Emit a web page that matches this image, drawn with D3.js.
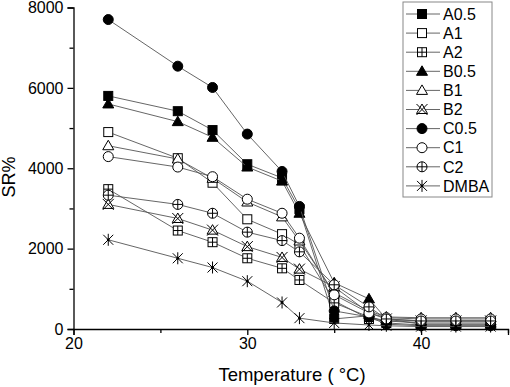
<!DOCTYPE html>
<html>
<head>
<meta charset="utf-8">
<script src="https://cdn.jsdelivr.net/npm/d3@7"></script>
<style>
  html, body { margin: 0; padding: 0; background: #fff; }
  svg { display: block; font-family: "Liberation Sans", Arial, sans-serif; }
</style>
</head>
<body>
<div id="container"></div>
<script>
const width = 510, height = 387;

// Data — swelling ratio (SR%) vs temperature
const temps = [22, 26, 28, 30, 32, 33, 35, 37, 38, 40, 42, 44];
const seriesNames = ["A0.5", "A1", "A2", "B0.5", "B1", "B2", "C0.5", "C1", "C2", "DMBA"];
const seriesMarkers = ["squareFilled", "square", "squarePlus", "triangleFilled", "triangle",
  "triangleX", "circleFilled", "circle", "circlePlus", "asterisk"];
const A05 = [5800, 5420, 4950, 4100, 3760, 2980, 250, 330, 150, 100, 100, 100];
const A1 = [4900, 4250, 3640, 2730, 2360, 2100, 700, 250, 200, 200, 200, 200];
const A2 = [3480, 2450, 2160, 1760, 1510, 1220, 650, 300, 200, 150, 150, 150];
const B05 = [5600, 5160, 4770, 4030, 3680, 2880, 1150, 750, 250, 120, 120, 120];
const B1 = [4560, 4230, 3750, 3160, 2790, 2190, 900, 450, 300, 280, 280, 280];
const B2 = [3100, 2750, 2460, 2050, 1780, 1490, 1050, 400, 250, 200, 200, 200];
const C05 = [7700, 6540, 6010, 4850, 3920, 3050, 450, 300, 120, 80, 80, 80];
const C1 = [4290, 4030, 3790, 3230, 2880, 2260, 850, 400, 280, 250, 250, 250];
const C2 = [3330, 3100, 2880, 2410, 2200, 1920, 1100, 550, 250, 200, 200, 200];
const DMBA = [2220, 1760, 1530, 1190, 660, 270, 150, 100, 80, 60, 60, 60];
const seriesValues = [A05, A1, A2, B05, B1, B2, C05, C1, C2, DMBA];
const xTicks = [20, 30, 40];
const xMinor = [25, 35, 45];
const yTicks = [0, 2000, 4000, 6000, 8000];
const yMinor = [1000, 3000, 5000, 7000];

const svg = d3.select("#container").append("svg")
  .attr("width", width).attr("height", height);

const x = d3.scaleLinear().domain([20, 45]).range([73.5, 508]);
const y = d3.scaleLinear().domain([0, 8000]).range([329, 7.5]);

// Axes
svg.append("g").attr("transform", `translate(0,${y(0)})`)
  .call(d3.axisBottom(x).tickValues(xTicks).tickSize(6).tickPadding(3).tickFormat(d3.format("d")));
svg.append("g").attr("transform", `translate(0,${y(0)})`)
  .call(d3.axisBottom(x).tickValues(xMinor).tickSize(4).tickFormat(""))
  .select(".domain").remove();
svg.append("g").attr("transform", `translate(${x(20)},0)`)
  .call(d3.axisLeft(y).tickValues(yTicks).tickSize(6).tickPadding(4).tickFormat(d3.format("d")));
svg.append("g").attr("transform", `translate(${x(20)},0)`)
  .call(d3.axisLeft(y).tickValues(yMinor).tickSize(4).tickFormat(""))
  .select(".domain").remove();
svg.selectAll(".domain").attr("stroke", "#000").attr("stroke-width", 1.3);
svg.selectAll(".tick line").attr("stroke", "#000").attr("stroke-width", 1.3);
svg.selectAll(".tick text").attr("fill", "#000").style("font-size", "16px")
  .style("font-family", "'Liberation Sans', Arial, sans-serif");

// Axis titles
svg.append("text")
  .attr("x", 292).attr("y", 381)
  .attr("text-anchor", "middle")
  .style("font-size", "18.5px")
  .text("Temperature ( °C)");
svg.append("text")
  .attr("transform", "translate(15,177) rotate(-90)")
  .attr("text-anchor", "middle")
  .style("font-size", "18px")
  .text("SR%");

// Marker drawing
function drawMarker(sel, type) {
  const s = 4.5, r = 5;
  const filled = type.endsWith("Filled");
  const fill = filled ? "#000" : "#fff";
  const line = (x1, y1, x2, y2) => sel.append("line")
    .attr("x1", x1).attr("y1", y1).attr("x2", x2).attr("y2", y2)
    .attr("stroke", "#000").attr("stroke-width", 1);
  if (type.startsWith("square")) {
    sel.append("rect").attr("x", -s).attr("y", -s).attr("width", 2 * s).attr("height", 2 * s)
      .attr("fill", fill).attr("stroke", "#000").attr("stroke-width", 1);
    if (type === "squarePlus") { line(-s, 0, s, 0); line(0, -s, 0, s); }
  } else if (type.startsWith("triangle")) {
    sel.append("path").attr("d", "M0,-5.5L5.5,4L-5.5,4Z")
      .attr("fill", fill).attr("stroke", "#000").attr("stroke-width", 1);
    if (type === "triangleX") { line(-5.5, -5.5, 5.5, 5.5); line(5.5, -5.5, -5.5, 5.5); }
  } else if (type.startsWith("circle")) {
    sel.append("circle").attr("r", r)
      .attr("fill", fill).attr("stroke", "#000").attr("stroke-width", 1);
    if (type === "circlePlus") { line(-r, 0, r, 0); line(0, -r, 0, r); }
  } else if (type === "asterisk") {
    line(0, -6, 0, 6); line(-5, -5, 5, 5); line(5, -5, -5, 5);
    sel.append("circle").attr("r", 1.4).attr("fill", "#000");
  }
}

const lineGen = d3.line().x((d) => x(d.t)).y((d) => y(d.v));
const plot = svg.append("g");

seriesNames.forEach((name, i) => {
  const pts = temps.map((t, j) => ({ t, v: seriesValues[i][j] }));
  const g = plot.append("g");
  g.append("path").datum(pts).attr("d", lineGen)
    .attr("fill", "none").attr("stroke", "#555").attr("stroke-width", 0.9);
  g.selectAll("g.m").data(pts).join("g").attr("class", "m")
    .attr("transform", (d) => `translate(${x(d.t)},${y(d.v)})`)
    .each(function () { drawMarker(d3.select(this), seriesMarkers[i]); });
});

// Legend
const lg = svg.append("g");
lg.append("rect").attr("x", 403).attr("y", 2).attr("width", 89).attr("height", 195)
  .attr("fill", "#fff").attr("stroke", "#888").attr("stroke-width", 1);
seriesNames.forEach((name, i) => {
  const yy = 14 + i * 19.1;
  lg.append("line").attr("x1", 406).attr("x2", 440).attr("y1", yy).attr("y2", yy)
    .attr("stroke", "#555").attr("stroke-width", 0.9);
  const m = lg.append("g").attr("transform", `translate(422,${yy})`);
  drawMarker(m, seriesMarkers[i]);
  lg.append("text").attr("x", 443).attr("y", yy).attr("dy", "0.36em")
    .style("font-size", "16px").text(name);
});
</script>
</body>
</html>
